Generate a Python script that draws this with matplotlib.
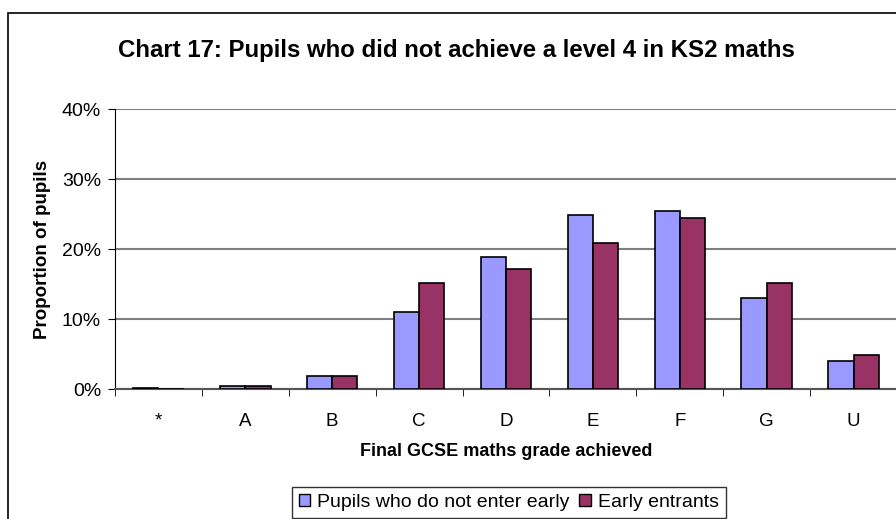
import matplotlib
matplotlib.use('Agg')
import matplotlib.pyplot as plt
import matplotlib.ticker as ticker
from matplotlib.patches import Rectangle, Patch
import numpy as np

plt.rcParams.update({
    'font.family': ['Liberation Sans', 'DejaVu Sans'],
    'font.size': 13,
})

# --- data (percent of pupils) ---
grades = ['*', 'A', 'B', 'C', 'D', 'E', 'F', 'G', 'U']
not_early = [0.2, 0.4, 1.9, 11.0, 18.9, 24.9, 25.5, 13.0, 4.0]
early = [0.0, 0.4, 1.9, 15.1, 17.2, 20.9, 24.5, 15.2, 4.8]
y_ticks = [0, 10, 20, 30, 40]

C_BLUE = '#9999FF'
C_RED = '#993366'

fig = plt.figure(figsize=(8.96, 5.19), dpi=100)
ax = fig.add_axes([115 / 896, 1 - 389 / 519, 782 / 896, 280 / 519])

# outer chart border (right/bottom run off the image as in the original)
fig.patches.append(Rectangle((8 / 896, -0.1), 1.2, 1 - 13 / 519 + 0.1,
                             transform=fig.transFigure, fill=False,
                             edgecolor='black', linewidth=1.2))

x = np.arange(len(grades))
w = 0.29
ax.bar(x - w / 2, not_early, w, color=C_BLUE, edgecolor='black',
       linewidth=1.2, label='Pupils who do not enter early', zorder=3)
ax.bar(x + w / 2, early, w, color=C_RED, edgecolor='black',
       linewidth=1.2, label='Early entrants', zorder=3)

ax.set_xlim(-0.5, len(grades) - 0.5)
ax.set_ylim(0, 40)
ax.set_yticks(y_ticks)
ax.yaxis.set_major_formatter(ticker.FuncFormatter(lambda v, p: f'{v:.0f}%'))
ax.grid(True, axis='y', color='#808080', linewidth=1.5, zorder=0)

ax.set_xticks(x)
ax.set_xticklabels(grades)
ax.set_xticks(np.arange(-0.5, len(grades), 1), minor=True)
ax.tick_params(axis='x', which='major', length=0, pad=17, labelsize=13.5)
ax.tick_params(axis='x', which='minor', length=5, direction='out', color='black')
ax.tick_params(axis='y', length=5, direction='out', labelsize=14, pad=5)

for s in ['top', 'right']:
    ax.spines[s].set_visible(False)
ax.spines['left'].set_color('black')
ax.spines['bottom'].set_color('#555555')
ax.spines['bottom'].set_linewidth(1.5)

ax.set_xlabel('Final GCSE maths grade achieved', fontsize=13, fontweight='bold',
              labelpad=10)
ax.set_ylabel('Proportion of pupils', fontsize=13.5, fontweight='bold', labelpad=8)

fig.text(456 / 896, 1 - 51 / 519,
         'Chart 17: Pupils who did not achieve a level 4 in KS2 maths',
         ha='center', va='center', fontsize=17.3, fontweight='bold')

handles = [Patch(facecolor=C_BLUE, edgecolor='black', label='Pupils who do not enter early'),
           Patch(facecolor=C_RED, edgecolor='black', label='Early entrants')]
leg = fig.legend(handles=handles, loc='upper left', bbox_to_anchor=(292 / 896, 1 - 487 / 519),
                 ncol=2, fontsize=14, frameon=True, fancybox=False,
                 handlelength=0.6, handleheight=0.6, handletextpad=0.35,
                 columnspacing=0.5, borderpad=0.35, borderaxespad=0)
leg.get_frame().set_edgecolor('black')
leg.get_frame().set_linewidth(1.0)

fig.savefig('out.png', dpi=100)
